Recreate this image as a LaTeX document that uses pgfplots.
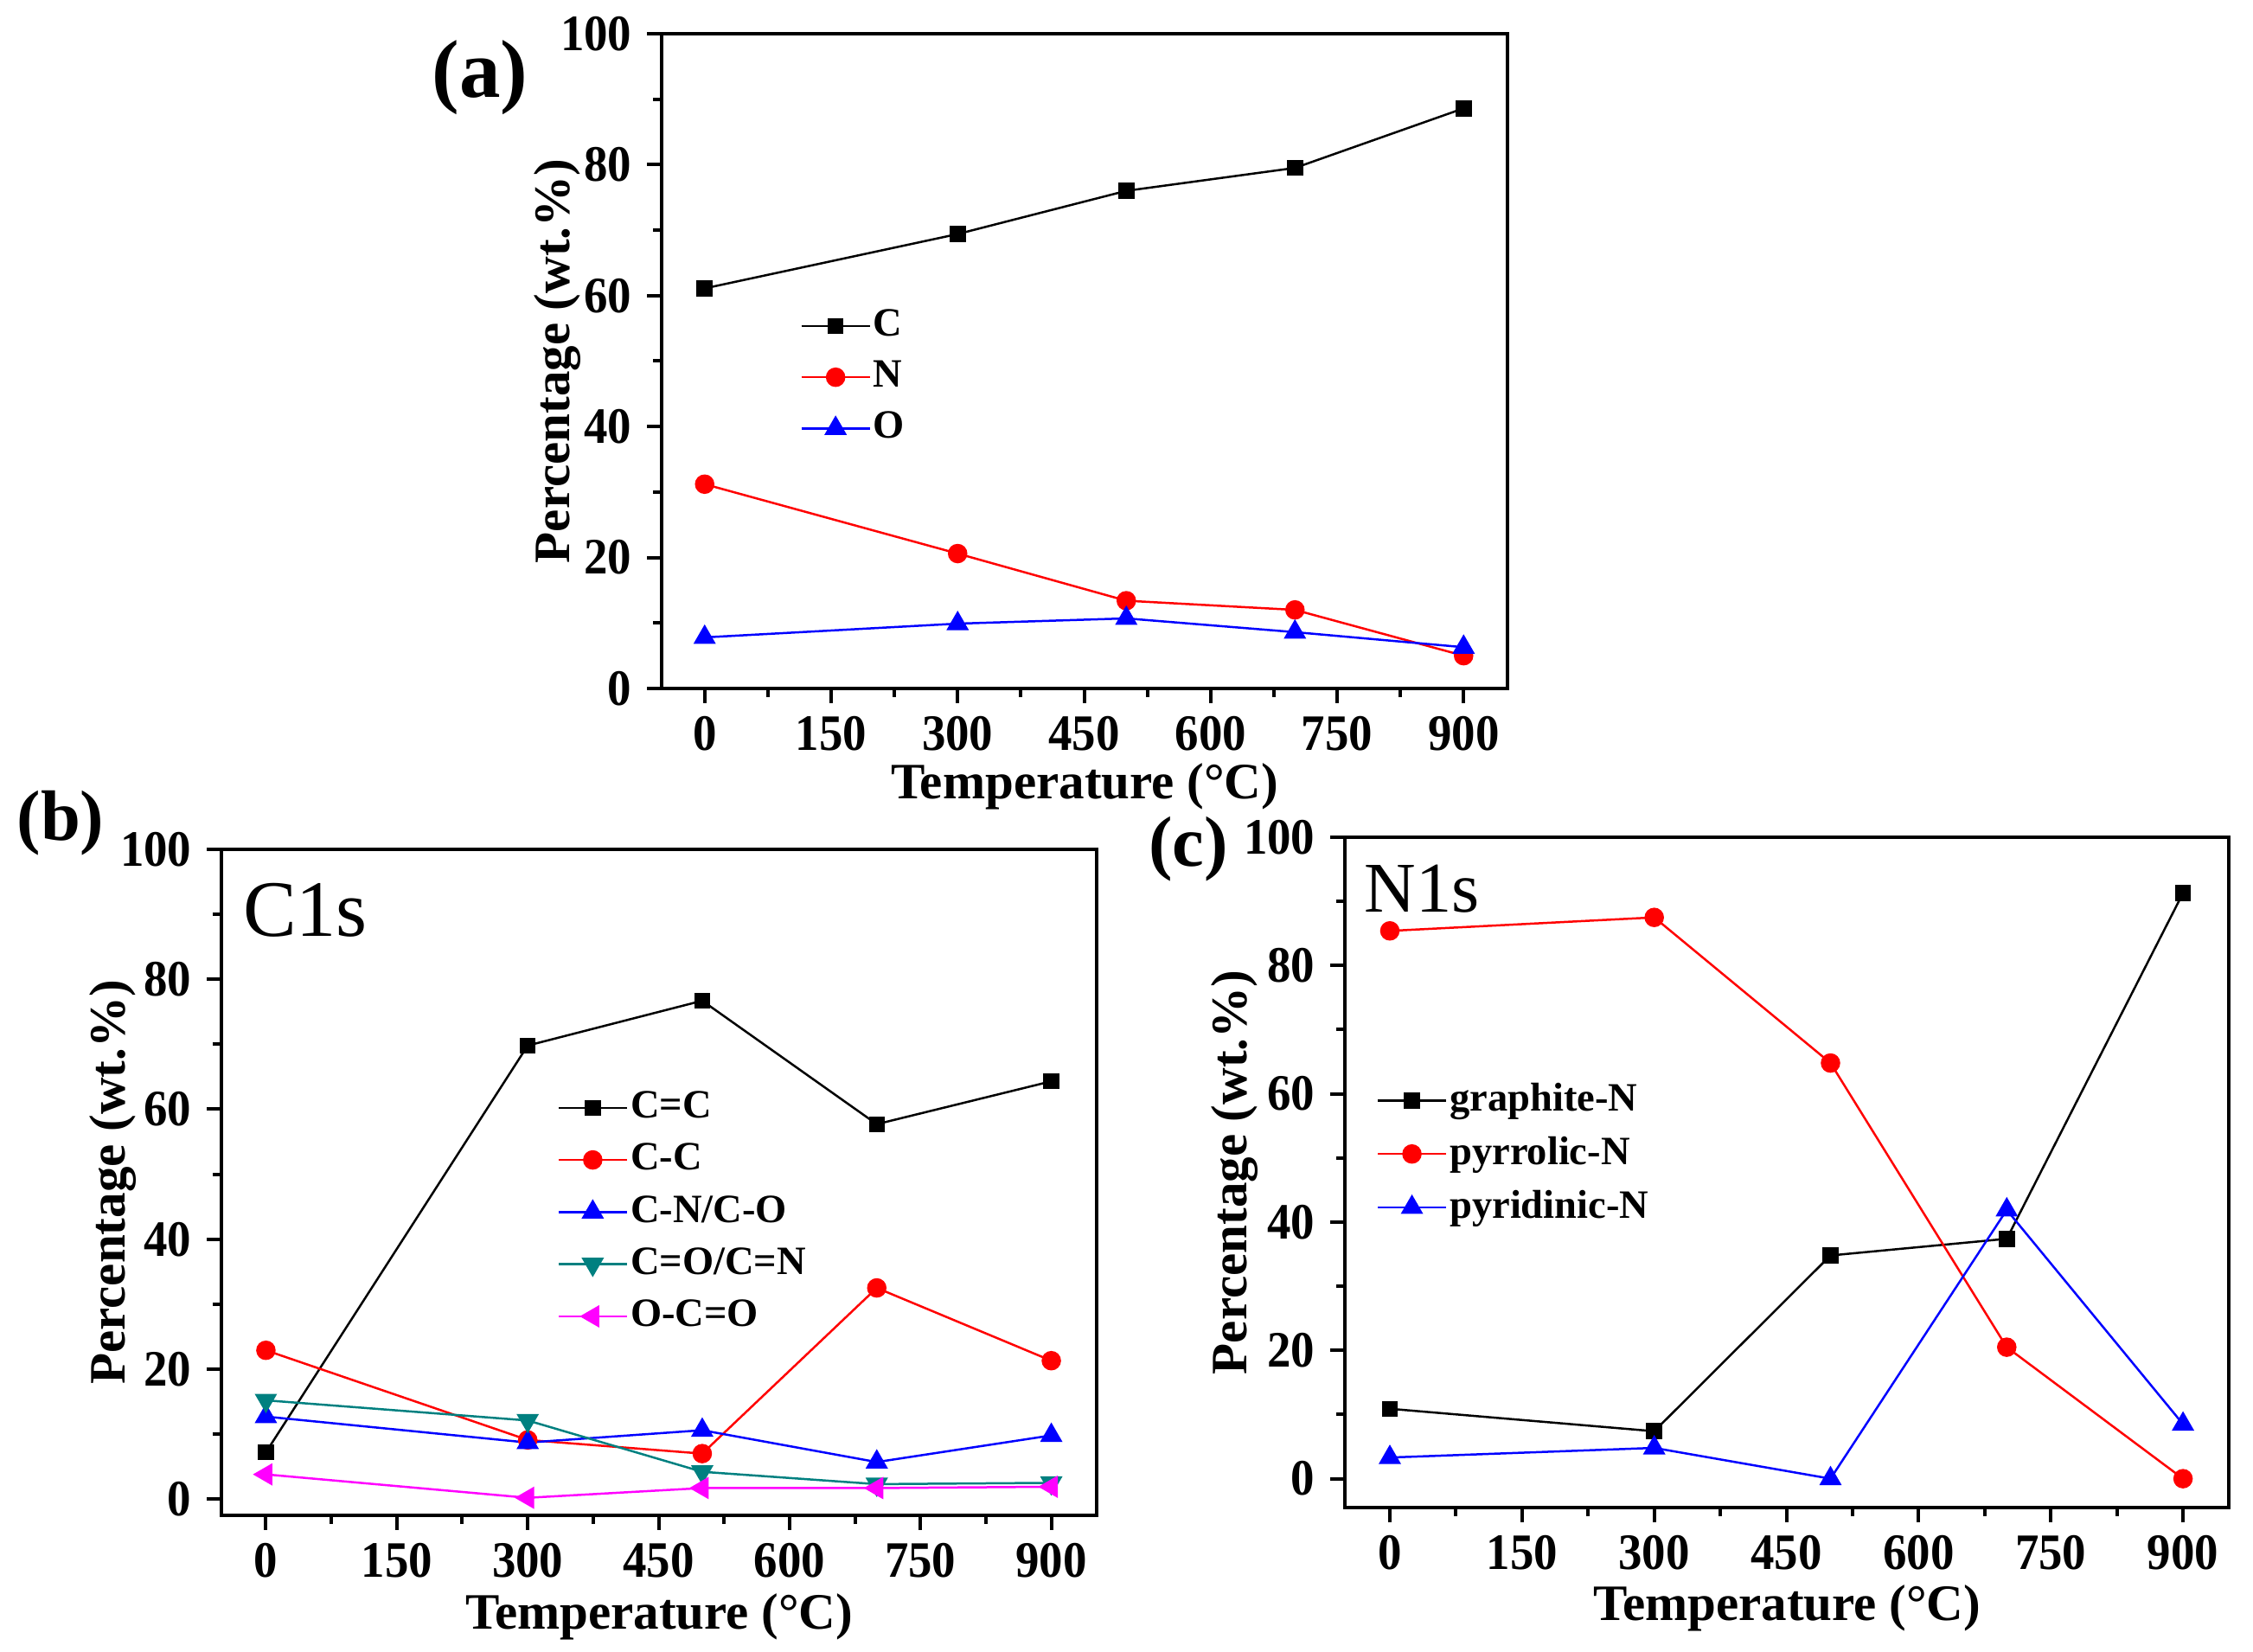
\documentclass[border=0pt]{standalone}
\usepackage{fontspec}
\setmainfont{Liberation Serif}
\newfontfamily\tkfont{Liberation Serif}[FakeStretch=0.93]
\usepackage{pgfplots}
\pgfplotsset{compat=1.18}
\definecolor{tealc}{RGB}{0,128,128}
\definecolor{magc}{RGB}{255,0,255}
\newcommand{\tk}{\tkfont\fontsize{11.8}{12}\selectfont\bfseries}
\newcommand{\lb}{\fontsize{11.8}{12}\selectfont\bfseries}
\pgfplotsset{
  panel/.style={
    scale only axis,
    axis line style={line width=0.8pt},
    xmin=-51, xmax=952, ymax=100,
    xtick={0,150,...,900}, ytick={0,20,...,100},
    minor x tick num=1, minor y tick num=1,
    tick align=outside, tick pos=left,
    major tick length=3.4pt, minor tick length=2pt,
    every tick/.style={line width=0.8pt, black},
    tick label style={font=\tk},
    xticklabel style={yshift=0.4pt},
    /pgf/number format/assume math mode=true,
    label style={font=\lb},
    xlabel={Temperature (°C)},
    ylabel={Percentage (wt.\%)},
    legend cell align=left,
    legend style={draw=none, fill=none, font=\bfseries\fontsize{9.3}{10}\selectfont,
      inner sep=0pt, row sep=3pt, anchor=north west, nodes={inner sep=0.6pt}},
    legend image code/.code={\draw[mark repeat=2,mark phase=2] plot coordinates {(0pt,0pt) (7.9pt,0pt) (15.8pt,0pt)};},
    every axis plot/.append style={line width=0.5pt},
  },
  sq/.style={black, mark=square*, mark size=1.6pt, mark options={solid}},
  ci/.style={red, mark=*, mark size=2pt},
  tu/.style={blue, mark=triangle*, mark size=2.5pt},
  td/.style={tealc, mark=triangle*, mark size=2.5pt, mark options={rotate=180}},
  tl/.style={magc, mark=triangle*, mark size=2.5pt, mark options={rotate=90}},
}
\begin{document}
\begin{tikzpicture}
\useasboundingbox (0,0) rectangle (521pt,382pt);
% ---------------- (a)
\begin{axis}[panel, at={(153pt,222.8pt)}, anchor=south west,
  width=195.6pt, height=151.4pt, ymin=0,
  xlabel style={at={(axis description cs:0.5,-0.150)}, anchor=center},
  ylabel style={at={(axis description cs:-0.1227,0.5)}, anchor=center},
  legend style={at={(axis description cs:0.163,0.584)}}]
\addplot[sq] coordinates {(0,61.1)(300,69.4)(500,76.0)(700,79.5)(900,88.6)};
\addplot[ci] coordinates {(0,31.2)(300,20.6)(500,13.4)(700,12.0)(900,5.0)};
\addplot[tu] coordinates {(0,7.8)(300,9.9)(500,10.7)(700,8.6)(900,6.3)};
\legend{C,N,O}
\end{axis}
% ---------------- (b)
\begin{axis}[panel, at={(51.2pt,31.6pt)}, anchor=south west,
  width=202.4pt, height=154pt, ymin=-2.5,
  xlabel style={at={(axis description cs:0.5,-0.153)}, anchor=center},
  ylabel style={at={(axis description cs:-0.1235,0.5)}, anchor=center},
  legend style={at={(axis description cs:0.383,0.642)}, row sep=3.2pt}]
\addplot[sq] coordinates {(0,7.2)(300,69.8)(500,76.7)(700,57.7)(900,64.3)};
\addplot[ci] coordinates {(0,22.9)(300,9.1)(500,7.0)(700,32.5)(900,21.3)};
\addplot[tu] coordinates {(0,12.7)(300,8.7)(500,10.6)(700,5.7)(900,9.8)};
\addplot[td] coordinates {(0,15.2)(300,12.1)(500,4.2)(700,2.3)(900,2.5)};
\addplot[tl] coordinates {(0,3.8)(300,0.2)(500,1.7)(700,1.7)(900,1.9)};
\legend{C=C,C-C,C-N/C-O,C=O/C=N,O-C=O}
\end{axis}
% ---------------- (c)
\begin{axis}[panel, at={(311pt,33.4pt)}, anchor=south west,
  width=204.4pt, height=155pt, ymin=-4.5,
  xlabel style={at={(axis description cs:0.5,-0.1505)}, anchor=center},
  ylabel style={at={(axis description cs:-0.125,0.5)}, anchor=center},
  legend style={at={(axis description cs:0.035,0.638)}, row sep=3.2pt}]
\addplot[sq] coordinates {(0,10.9)(300,7.4)(500,34.8)(700,37.4)(900,91.3)};
\addplot[ci] coordinates {(0,85.4)(300,87.5)(500,64.8)(700,20.5)(900,0)};
\addplot[tu] coordinates {(0,3.3)(300,4.8)(500,0)(700,41.9)(900,8.5)};
\legend{graphite-N,pyrrolic-N,pyridinic-N}
\end{axis}
\node[font=\bfseries\fontsize{19}{19}\selectfont] at (111pt,364pt) {(a)};
\node[font=\bfseries\fontsize{16.5}{16.5}\selectfont] at (14pt,191.6pt) {(b)};
\node[font=\bfseries\fontsize{16.5}{16.5}\selectfont] at (274.8pt,185.6pt) {(c)};
\node[font=\fontsize{18.5}{18.5}\selectfont] at (70.6pt,171.6pt) {C1s};
\node[font=\fontsize{16.5}{16.5}\selectfont] at (328.8pt,176.4pt) {N1s};
\end{tikzpicture}
\end{document}
